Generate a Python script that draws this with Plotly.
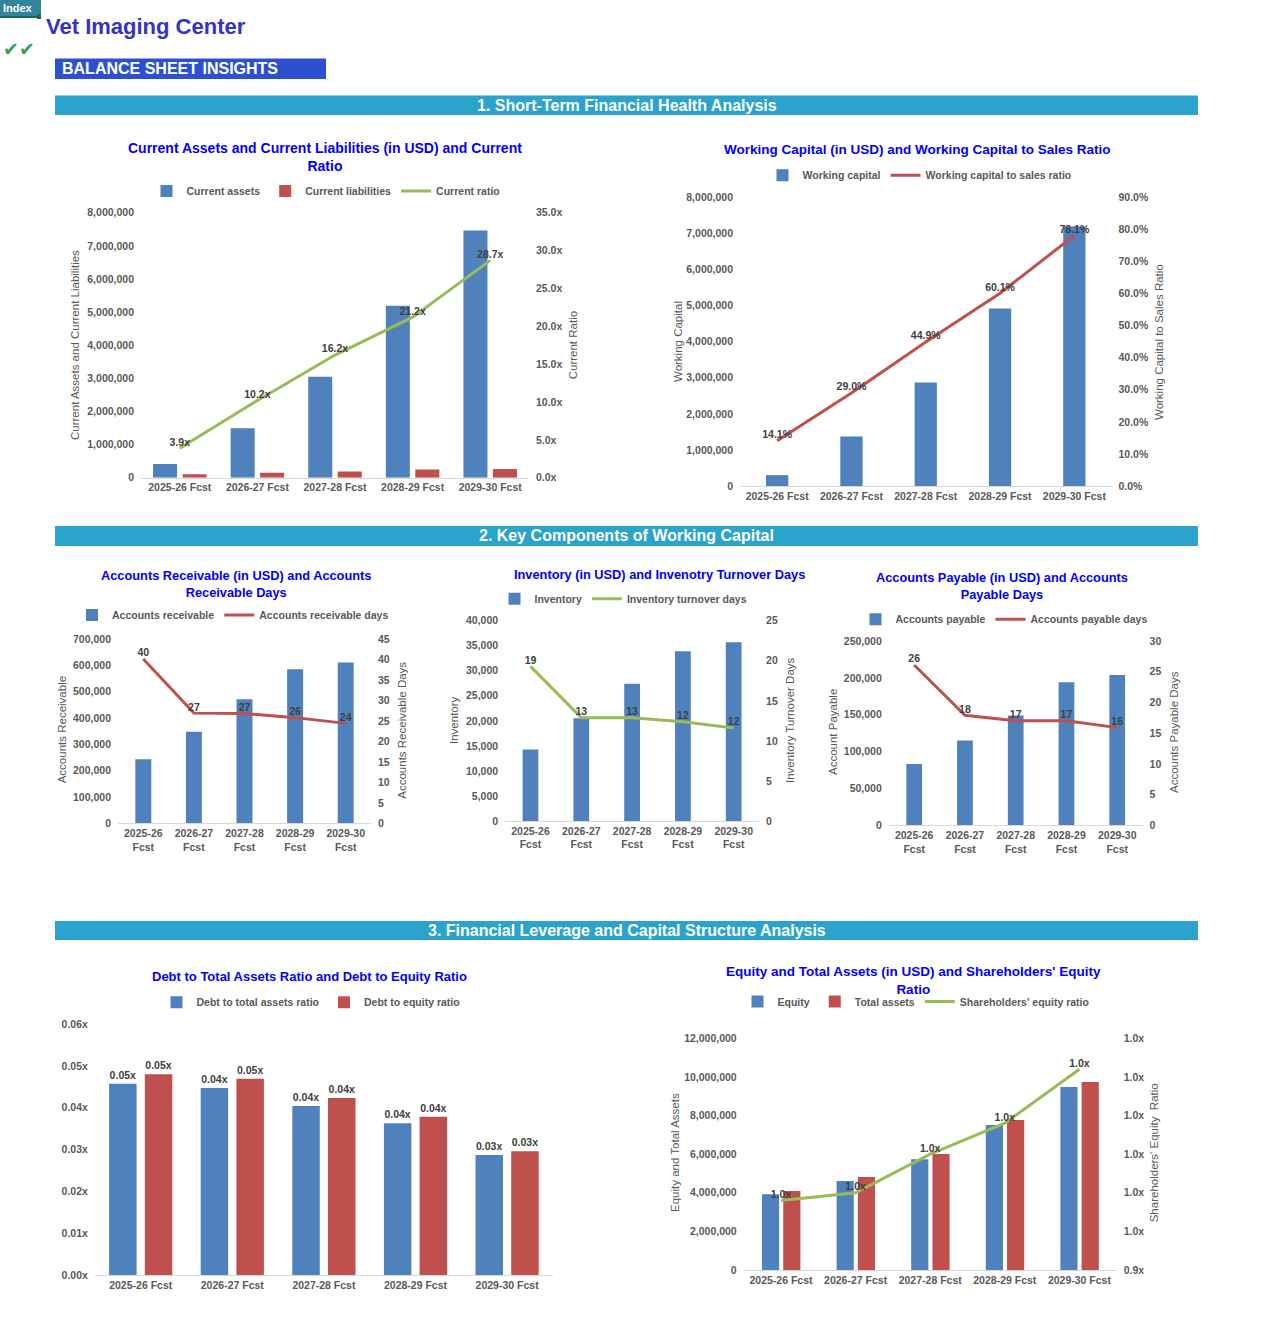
import plotly.graph_objects as go

W, H = 1267, 1331

# ---------------- data ----------------
categories = ["2025-26 Fcst", "2026-27 Fcst", "2027-28 Fcst", "2028-29 Fcst", "2029-30 Fcst"]

current_assets = [410000, 1490000, 3050000, 5190000, 7460000]
current_liabilities = [105000, 146000, 188000, 245000, 260000]
current_ratio = [3.9, 10.2, 16.2, 21.2, 28.7]

working_capital = [300000, 1370000, 2870000, 4920000, 7190000]
wc_to_sales_ratio = [0.141, 0.290, 0.449, 0.601, 0.781]

accounts_receivable = [243000, 348000, 471000, 585000, 611000]
accounts_receivable_days = [40.1, 26.9, 26.8, 25.8, 24.4]

inventory = [14300, 20500, 27400, 33900, 35700]
inventory_turnover_days = [19.3, 12.9, 12.9, 12.4, 11.6]

accounts_payable = [83000, 115000, 149000, 194000, 204000]
accounts_payable_days = [26.1, 17.9, 17.0, 17.0, 15.9]

debt_to_total_assets = [0.0457, 0.0447, 0.0404, 0.0363, 0.0287]
debt_to_equity = [0.0480, 0.0469, 0.0423, 0.0378, 0.0296]

equity = [3920000, 4610000, 5730000, 7510000, 9480000]
total_assets = [4090000, 4820000, 6010000, 7770000, 9740000]
equity_ratio = [0.954, 0.955, 0.960, 0.964, 0.971]
equity_ratio_tickvals = [0.945, 0.950, 0.955, 0.960, 0.965, 0.970, 0.975]
equity_ratio_ticktext = ["0.9x", "1.0x", "1.0x", "1.0x", "1.0x", "1.0x", "1.0x"]

# ---------------- styles ----------------
BLUE = "#4F81BD"
RED = "#C0504D"
GREEN = "#9BBB59"
GRAY = "#595959"
LBL = "#404040"
AXLINE = "#D9D9D9"
TITLE_BLUE = "#0000FF"
SECTION = "#2AA3CD"
FONT = "Liberation Sans, Arial, sans-serif"
TICKFONT = dict(family=FONT, size=10.5, color=GRAY, weight="bold")
LBLFONT = dict(family=FONT, size=10.5, color=LBL, weight="bold")

wrapped = [c.replace(" ", "<br>") for c in categories]

fig = go.Figure()
layout = {}
annotations = []
shapes = []


def PX(x):
    return x / W


def PY(y):
    return 1 - y / H


def xid(k):
    return "x" if k == 1 else f"x{k}"


def yid(k):
    return "y" if k == 1 else f"y{k}"


def xkey(k):
    return "xaxis" if k == 1 else f"xaxis{k}"


def ykey(k):
    return "yaxis" if k == 1 else f"yaxis{k}"


def lkey(k):
    return "legend" if k == 1 else f"legend{k}"


def setup(k, x0, x1, ytop, ybot, yrange, dtick, fmt, suffix="", sec=None):
    layout[xkey(k)] = dict(domain=[PX(x0), PX(x1)], anchor=yid(k), type="category",
                           range=[-0.5, 4.5], showline=True, linecolor=AXLINE, linewidth=1,
                           ticks="", showgrid=False, zeroline=False, tickfont=TICKFONT,
                           fixedrange=True, automargin=False)
    layout[ykey(k)] = dict(domain=[PY(ybot), PY(ytop)], anchor=xid(k), range=yrange,
                           tick0=0, dtick=dtick, tickformat=fmt, ticksuffix=suffix,
                           showgrid=False, zeroline=False, showline=False, ticks="",
                           tickfont=TICKFONT, ticklabelstandoff=6, fixedrange=True,
                           automargin=False)
    if sec is not None:
        s, srange, sdtick, sfmt, ssuffix, extra = sec
        d = dict(overlaying=yid(k), side="right", anchor=xid(k), range=srange,
                 tick0=srange[0], dtick=sdtick, tickformat=sfmt, ticksuffix=ssuffix,
                 showgrid=False, zeroline=False, showline=False, ticks="",
                 tickfont=TICKFONT, ticklabelstandoff=6, fixedrange=True, automargin=False)
        d.update(extra)
        layout[ykey(s)] = d


def legend(k, cx, cy):
    layout[lkey(k)] = dict(x=PX(cx), y=PY(cy), xanchor="center", yanchor="middle",
                           orientation="h", bgcolor="rgba(0,0,0,0)", traceorder="normal",
                           font=dict(family=FONT, size=10.5, color=GRAY, weight="bold"),
                           itemwidth=30, tracegroupgap=0)


def bar(k, x, y, name, color, width, offset, text=None):
    fig.add_trace(go.Bar(x=x, y=y, name=name, marker_color=color, width=width, offset=offset,
                         xaxis=xid(k), yaxis=yid(k), legend=lkey(k),
                         text=text, textposition="outside" if text else None,
                         textfont=LBLFONT, cliponaxis=False, hoverinfo="x+y"))


def line(k, s, x, y, name, color, text):
    fig.add_trace(go.Scatter(x=x, y=y, name=name, mode="lines+text",
                             line=dict(color=color, width=3),
                             text=text, textposition="top center", textfont=LBLFONT,
                             xaxis=xid(k), yaxis=yid(s), legend=lkey(k), cliponaxis=False))


def title(cx, cy, text, size=13):
    annotations.append(dict(x=PX(cx), y=PY(cy), xref="paper", yref="paper", text=text,
                            showarrow=False, xanchor="center", yanchor="middle",
                            font=dict(family=FONT, size=size, color=TITLE_BLUE, weight="bold")))


def axtitle(cx, cy, text):
    annotations.append(dict(x=PX(cx), y=PY(cy), xref="paper", yref="paper", text=text,
                            showarrow=False, xanchor="center", yanchor="middle", textangle=-90,
                            font=dict(family=FONT, size=11.5, color=GRAY)))


def section(y0, y1, text):
    shapes.append(dict(type="rect", xref="paper", yref="paper", x0=PX(55), x1=PX(1198),
                       y0=PY(y1), y1=PY(y0), fillcolor=SECTION, line_width=0, layer="below"))
    annotations.append(dict(x=PX(626.5), y=PY((y0 + y1) / 2), xref="paper", yref="paper",
                            text=text, showarrow=False, xanchor="center", yanchor="middle",
                            font=dict(family=FONT, size=16, color="white", weight="bold")))


# ---------------- chart 1 ----------------
setup(1, 141, 529, 212.7, 477.7, [0, 8000000], 1000000, ",.0f",
      sec=(8, [0, 35], 5, ".1f", "x", {}))
bar(1, categories, current_assets, "Current assets", BLUE, 0.31, -0.345)
bar(1, categories, current_liabilities, "Current liabilities", RED, 0.31, 0.035)
line(1, 8, categories, current_ratio, "Current ratio", GREEN, [f"{v:.1f}x" for v in current_ratio])
legend(1, 326, 191)
title(324.7, 157.2, "Current Assets and Current Liabilities (in USD) and Current<br>Ratio", 14)
axtitle(75, 345, "Current Assets and Current Liabilities")
axtitle(573.3, 345, "Current Ratio")

# ---------------- chart 2 ----------------
setup(2, 740, 1111.5, 197.3, 486, [0, 8000000], 1000000, ",.0f",
      sec=(9, [0, 0.9], 0.1, ".1%", "", {}))
bar(2, categories, working_capital, "Working capital", BLUE, 0.3, -0.15)
line(2, 9, categories, wc_to_sales_ratio, "Working capital to sales ratio", RED,
     [f"{v*100:.1f}%" for v in wc_to_sales_ratio])
legend(2, 919.5, 175.3)
title(917.5, 149.3, "Working Capital (in USD) and Working Capital to Sales Ratio", 13.5)
axtitle(677.3, 341.7, "Working Capital")
axtitle(1158.3, 341.7, "Working Capital to Sales Ratio")

# ---------------- chart 3 ----------------
setup(3, 118, 371, 639, 823.3, [0, 700000], 100000, ",.0f",
      sec=(10, [0, 45], 5, "d", "", {}))
bar(3, wrapped, accounts_receivable, "Accounts receivable", BLUE, 0.316, -0.158)
line(3, 10, wrapped, accounts_receivable_days, "Accounts receivable days", RED,
     [f"{v:.0f}" for v in accounts_receivable_days])
legend(3, 233, 615)
title(235.7, 583.5, "Accounts Receivable (in USD) and Accounts<br>Receivable Days", 12.8)
axtitle(62.3, 730, "Accounts Receivable")
axtitle(401.7, 730, "Accounts Receivable Days")

# ---------------- chart 4 ----------------
setup(4, 505.1, 759.1, 620.7, 821, [0, 40000], 5000, ",.0f",
      sec=(11, [0, 25], 5, "d", "", {}))
bar(4, wrapped, inventory, "Inventory", BLUE, 0.31, -0.155)
line(4, 11, wrapped, inventory_turnover_days, "Inventory turnover days", GREEN,
     [f"{v:.0f}" for v in inventory_turnover_days])
legend(4, 623.5, 598.7)
title(659.5, 574, "Inventory (in USD) and Invenotry Turnover Days", 12.8)
axtitle(454, 720, "Inventory")
axtitle(790, 720, "Inventory Turnover Days")

# ---------------- chart 5 ----------------
setup(5, 888.8, 1142.6, 641, 825.3, [0, 250000], 50000, ",.0f",
      sec=(12, [0, 30], 5, "d", "", {}))
bar(5, wrapped, accounts_payable, "Accounts payable", BLUE, 0.31, -0.155)
line(5, 12, wrapped, accounts_payable_days, "Accounts payable days", RED,
     [f"{v:.0f}" for v in accounts_payable_days])
legend(5, 1004, 619.3)
title(1002.2, 586.3, "Accounts Payable (in USD) and Accounts<br>Payable Days", 12.8)
axtitle(832.3, 731.7, "Account Payable")
axtitle(1173.3, 731.7, "Accounts Payable Days")

# ---------------- chart 6 ----------------
setup(6, 94.9, 552.9, 1024, 1275, [0, 0.06], 0.01, ".2f", "x")
bar(6, categories, debt_to_total_assets, "Debt to total assets ratio", BLUE, 0.3, -0.345,
    [f"{v:.2f}x" for v in debt_to_total_assets])
bar(6, categories, debt_to_equity, "Debt to equity ratio", RED, 0.3, 0.045,
    [f"{v:.2f}x" for v in debt_to_equity])
legend(6, 311, 1002.3)
title(309.5, 976, "Debt to Total Assets Ratio and Debt to Equity Ratio", 13)

# ---------------- chart 7 ----------------
setup(7, 743.7, 1116.7, 1038.3, 1270, [0, 12000000], 2000000, ",.0f",
      sec=(13, [0.945, 0.975], 0.005, ".1f", "x",
           dict(tickmode="array", tickvals=equity_ratio_tickvals, ticktext=equity_ratio_ticktext)))
bar(7, categories, equity, "Equity", BLUE, 0.23, -0.255)
bar(7, categories, total_assets, "Total assets", RED, 0.23, 0.03)
line(7, 13, categories, equity_ratio, "Shareholders' equity ratio", GREEN,
     [f"{v:.1f}x" for v in equity_ratio])
legend(7, 916, 1001.5)
title(914, 980.5, "Equity and Total Assets (in USD) and Shareholders' Equity<br>Ratio", 13.5)
axtitle(675, 1153, "Equity and Total Assets")
axtitle(1154.3, 1153, "Shareholders' Equity  Ratio")

# ---------------- header & sections ----------------
shapes.append(dict(type="rect", xref="paper", yref="paper", x0=PX(0), x1=PX(41),
                   y0=PY(16), y1=PY(0), fillcolor="#31849B", line_width=0))
shapes.append(dict(type="rect", xref="paper", yref="paper", x0=PX(0), x1=PX(38),
                   y0=PY(18), y1=PY(16), fillcolor="#1D6B45", line_width=0))
shapes.append(dict(type="rect", xref="paper", yref="paper", x0=PX(37), x1=PX(41),
                   y0=PY(19), y1=PY(14), fillcolor="#1D6B45", line_width=0))
annotations.append(dict(x=PX(18), y=PY(8), xref="paper", yref="paper", text="Index",
                        showarrow=False, xanchor="center", yanchor="middle",
                        font=dict(family=FONT, size=11, color="white", weight="bold")))
annotations.append(dict(x=PX(44), y=PY(26), xref="paper", yref="paper",
                        text="Vet Imaging Center", showarrow=False, xanchor="left",
                        yanchor="middle",
                        font=dict(family=FONT, size=22, color="#3333CC", weight="bold")))
annotations.append(dict(x=PX(1), y=PY(49), xref="paper", yref="paper", text="✔✔",
                        showarrow=False, xanchor="left", yanchor="middle",
                        font=dict(family="DejaVu Sans", size=19, color="#3A9A5C")))
shapes.append(dict(type="rect", xref="paper", yref="paper", x0=PX(55), x1=PX(326),
                   y0=PY(79), y1=PY(58.5), fillcolor="#2D50D0", line_width=0))
annotations.append(dict(x=PX(60), y=PY(69), xref="paper", yref="paper",
                        text="BALANCE SHEET INSIGHTS", showarrow=False, xanchor="left",
                        yanchor="middle",
                        font=dict(family=FONT, size=16, color="white", weight="bold")))

section(95.5, 115, "1. Short-Term Financial Health Analysis")
section(526, 546, "2. Key Components of Working Capital")
section(921, 940, "3. Financial Leverage and Capital Structure Analysis")

fig.update_layout(template="none", width=W, height=H,
                  margin=dict(l=0, r=0, t=0, b=0, pad=0, autoexpand=False),
                  paper_bgcolor="white", plot_bgcolor="white", autosize=False,
                  font=dict(family=FONT, color=GRAY),
                  annotations=annotations, shapes=shapes, hovermode="closest",
                  **layout)

fig.write_html("out.html", config={"displayModeBar": False},
               post_script="document.body.style.margin='0';")
